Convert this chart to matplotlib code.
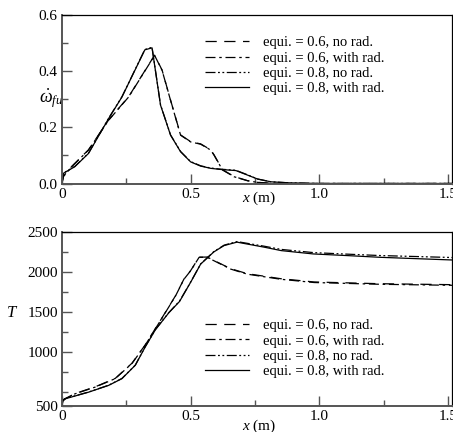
import matplotlib
matplotlib.use("Agg")
import matplotlib.pyplot as plt
from matplotlib.ticker import FixedLocator, FixedFormatter

plt.rcParams['font.family'] = ['Liberation Serif', 'DejaVu Serif']
plt.rcParams['mathtext.fontset'] = 'custom'
plt.rcParams['mathtext.rm'] = 'Liberation Serif'
plt.rcParams['mathtext.it'] = 'Liberation Serif:italic'

labels = ["equi. = 0.6, no rad.", "equi. = 0.6, with rad.",
          "equi. = 0.8, no rad.", "equi. = 0.8, with rad."]

# ---- top panel: fuel consumption rate ----
x_w06 = [0.0, 0.005, 0.038, 0.103, 0.181, 0.259, 0.36, 0.389, 0.422, 0.461, 0.5, 0.539,
         0.578, 0.591, 0.624, 0.669, 0.721, 0.76, 0.825, 1.0, 1.25, 1.52]
w06_norad = [0.0, 0.026, 0.061, 0.120, 0.226, 0.309, 0.457, 0.404, 0.297, 0.173, 0.149, 0.141,
             0.120, 0.102, 0.049, 0.025, 0.010, 0.004, 0.0, 0.0, 0.0, 0.0]
w06_rad = [0.0, 0.024, 0.060, 0.119, 0.225, 0.308, 0.456, 0.403, 0.296, 0.172, 0.148, 0.140,
           0.119, 0.101, 0.048, 0.024, 0.010, 0.004, 0.0, 0.0, 0.0, 0.0]

x_w08 = [0.0, 0.005, 0.05, 0.103, 0.181, 0.233, 0.322, 0.35, 0.363, 0.383, 0.422, 0.461,
         0.5, 0.539, 0.578, 0.617, 0.676, 0.721, 0.76, 0.812, 0.89, 1.0, 1.25, 1.52]
w08_norad = [0.0, 0.037, 0.061, 0.108, 0.232, 0.309, 0.477, 0.485, 0.404, 0.280, 0.173, 0.114,
             0.078, 0.063, 0.055, 0.051, 0.047, 0.031, 0.016, 0.006, 0.002, 0.0, 0.0, 0.0]
w08_rad = [0.0, 0.036, 0.060, 0.107, 0.231, 0.308, 0.476, 0.483, 0.403, 0.279, 0.172, 0.113,
           0.077, 0.062, 0.054, 0.050, 0.046, 0.030, 0.016, 0.006, 0.002, 0.0, 0.0, 0.0]

# ---- bottom panel: temperature ----
x_T06 = [0.0, 0.051, 0.129, 0.207, 0.272, 0.324, 0.389, 0.441, 0.474, 0.5, 0.533, 0.565,
         0.585, 0.656, 0.72, 0.85, 0.98, 1.236, 1.52]
T06_norad = [392, 476, 560, 666, 856, 1088, 1426, 1700, 1910, 2016, 2185, 2186,
             2152, 2040, 1978, 1915, 1874, 1852, 1840]
T06_rad = [388, 473, 557, 663, 853, 1085, 1423, 1697, 1908, 2014, 2183, 2183,
           2149, 2035, 1972, 1908, 1867, 1845, 1832]

x_T08 = [0.0, 0.003, 0.012, 0.103, 0.181, 0.233, 0.285, 0.324, 0.363, 0.415, 0.457, 0.5,
         0.539, 0.59, 0.63, 0.68, 0.786, 0.852, 0.977, 1.112, 1.236, 1.52]
T08_norad = [322, 382, 412, 495, 580, 665, 833, 1066, 1278, 1490, 1635, 1872,
             2100, 2254, 2335, 2380, 2322, 2282, 2242, 2222, 2205, 2180]
T08_rad = [320, 380, 410, 493, 578, 663, 831, 1063, 1275, 1487, 1630, 1870,
           2098, 2250, 2330, 2373, 2310, 2267, 2225, 2204, 2183, 2149]

styles = [dict(dashes=(9, 6)), dict(dashes=(8, 3, 2, 3)),
          dict(dashes=(8, 2, 1.5, 2, 1.5, 2)), dict(linestyle='-')]

W, H = 453, 432
fig = plt.figure(figsize=(W / 100, H / 100), dpi=100)
ax1 = fig.add_axes([62 / W, 1 - 183.5 / H, 390 / W, 168.5 / H])
ax2 = fig.add_axes([62 / W, 1 - 406 / H, 390 / W, 174 / H])

top_series = [(x_w06, w06_norad), (x_w06, w06_rad), (x_w08, w08_norad), (x_w08, w08_rad)]
bot_series = [(x_T06, T06_norad), (x_T06, T06_rad), (x_T08, T08_norad), (x_T08, T08_rad)]

for ax, series in ((ax1, top_series), (ax2, bot_series)):
    for (xs, ys), st, lab in zip(series, styles, labels):
        ax.plot(xs, ys, color='black', lw=0.9, label=lab, **st)

spine_col = '#555555'
for ax in (ax1, ax2):
    ax.set_xlim(0, 1.516)
    ax.xaxis.set_major_locator(FixedLocator([0, 0.5, 1.0, 1.5]))
    ax.xaxis.set_major_formatter(FixedFormatter(['0', '0.5', '1.0', '1.5']))
    ax.xaxis.set_minor_locator(FixedLocator([0.25, 0.75, 1.25]))
    ax.tick_params(which='both', direction='in', top=False, right=False,
                   labelsize=11, color=spine_col, pad=3)
    ax.tick_params(which='major', length=7, width=1)
    ax.tick_params(which='minor', length=4.5, width=1)
    for s in ('left', 'bottom'):
        ax.spines[s].set_color(spine_col)
        ax.spines[s].set_linewidth(1.4)
    for s in ('top', 'right'):
        ax.spines[s].set_color('black')
        ax.spines[s].set_linewidth(0.9)

ax1.set_ylim(0, 0.6)
ax1.yaxis.set_major_locator(FixedLocator([0, 0.2, 0.4, 0.6]))
ax1.yaxis.set_major_formatter(FixedFormatter(['0.0', '0.2', '0.4', '0.6']))
ax1.yaxis.set_minor_locator(FixedLocator([0.1, 0.3, 0.5]))

ax2.set_ylim(320, 2500)
ax2.yaxis.set_major_locator(FixedLocator([320, 1000, 1500, 2000, 2500]))
ax2.yaxis.set_major_formatter(FixedFormatter(['500', '1000', '1500', '2000', '2500']))
ax2.yaxis.set_minor_locator(FixedLocator([500, 750, 1250, 1750, 2250]))

ax1.set_ylabel(r'$\dot{\omega}_{fu}$', rotation=0, fontsize=13, ha='center', va='center')
ax1.yaxis.set_label_coords(-0.027, 0.50)
ax2.set_ylabel(r'$T$', rotation=0, fontsize=12, ha='center', va='center')
ax2.yaxis.set_label_coords(-0.127, 0.537)

ax1.set_xlabel(r'$x$ (m)', fontsize=11, va='center')
ax1.xaxis.set_label_coords(0.505, -0.086)
ax2.set_xlabel(r'$x$ (m)', fontsize=11, va='center')
ax2.xaxis.set_label_coords(0.505, -0.115)

leg_kw = dict(frameon=False, fontsize=10.5, handlelength=3.0, handletextpad=1.0,
              labelspacing=0.15, borderpad=0, borderaxespad=0, loc='upper left')
ax1.legend(bbox_to_anchor=((205 - 62) / 390, (183.5 - 36) / 168.5), **leg_kw)
ax2.legend(bbox_to_anchor=((205 - 62) / 390, (406 - 319) / 174), **leg_kw)

fig.savefig('out.png', dpi=100)
